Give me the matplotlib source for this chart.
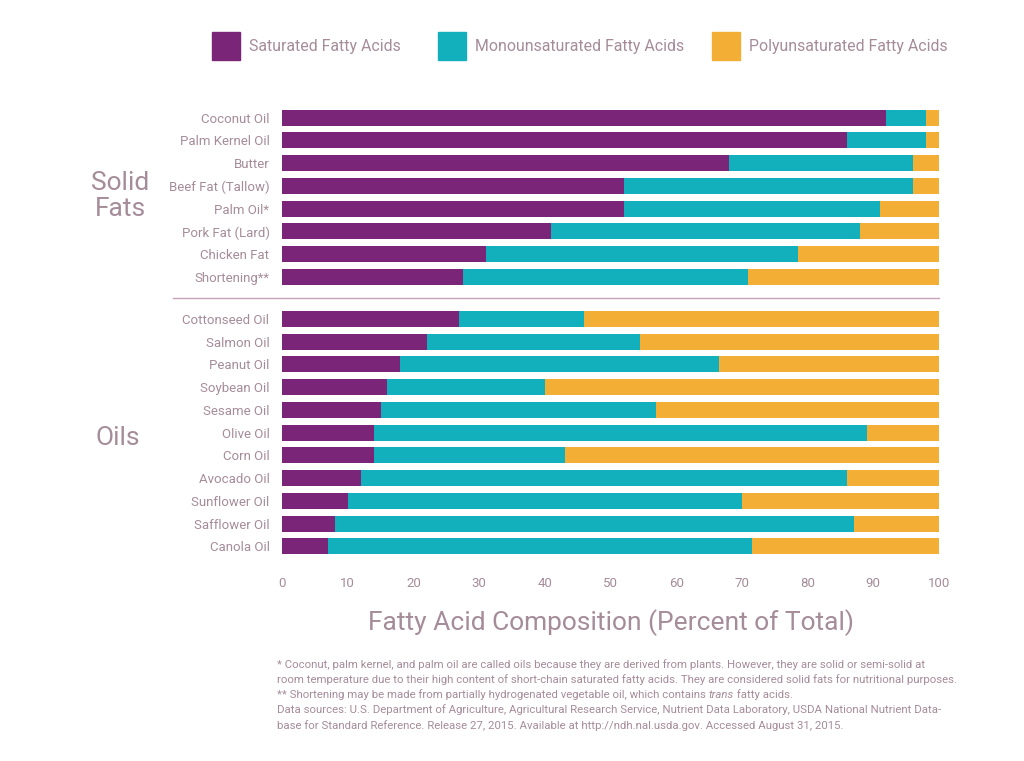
import matplotlib.pyplot as plt
from matplotlib.patches import Rectangle

plt.rcParams['font.family'] = ['Roboto', 'DejaVu Sans']

solid_fats = ['Coconut Oil', 'Palm Kernel Oil', 'Butter', 'Beef Fat (Tallow)', 'Palm Oil*',
              'Pork Fat (Lard)', 'Chicken Fat', 'Shortening**']
solid_sat = [92, 86, 68, 52, 52, 41, 31, 27.5]
solid_mono = [6, 12, 28, 44, 39, 47, 47.5, 43.5]
solid_poly = [2, 2, 4, 4, 9, 12, 21.5, 29]

oils = ['Cottonseed Oil', 'Salmon Oil', 'Peanut Oil', 'Soybean Oil', 'Sesame Oil', 'Olive Oil',
        'Corn Oil', 'Avocado Oil', 'Sunflower Oil', 'Safflower Oil', 'Canola Oil']
oil_sat = [27, 22, 18, 16, 15, 14, 14, 12, 10, 8, 7]
oil_mono = [19, 32.5, 48.5, 24, 42, 75, 29, 74, 60, 79, 64.5]
oil_poly = [54, 45.5, 33.5, 60, 43, 11, 57, 14, 30, 13, 28.5]

series_names = ['Saturated Fatty Acids', 'Monounsaturated Fatty Acids', 'Polyunsaturated Fatty Acids']
colors = ['#7b2579', '#12b0bc', '#f3ae35']
txt = '#a58c99'
gap = 0.85

labels = solid_fats + oils
sat = solid_sat + oil_sat
mono = solid_mono + oil_mono
poly = solid_poly + oil_poly
ypos = list(range(len(solid_fats))) + [len(solid_fats) + gap + i for i in range(len(oils))]

fig = plt.figure(figsize=(10.24, 7.61), dpi=100)
ax = fig.add_axes([282 / 1024, 1 - 560 / 761, 657 / 1024, (560 - 104) / 761])

left = [0] * len(labels)
for vals, c in zip([sat, mono, poly], colors):
    ax.barh(ypos, vals, left=left, height=0.7, color=c, linewidth=0)
    left = [l + v for l, v in zip(left, vals)]

ax.set_xlim(0, 100)
ax.set_ylim(ypos[-1] + 0.6, -0.6)
ax.set_yticks(ypos)
ax.set_yticklabels(labels, fontsize=9.5, color=txt)
ax.set_xticks(range(0, 101, 10))
ax.tick_params(axis='both', length=0, colors=txt)
ax.tick_params(axis='x', labelsize=9.5, pad=12)
ax.tick_params(axis='y', pad=9)
for s in ax.spines.values():
    s.set_visible(False)

# divider between groups
ydiv = len(solid_fats) - 1 + (1 + gap) / 2
ax.plot([-0.166, 1], [ydiv, ydiv], transform=ax.get_yaxis_transform(), color='#c9a3ba',
        lw=1, clip_on=False)

# group labels
fig.text(120 / 1024, 1 - 196 / 761, 'Solid\nFats', ha='center', va='center', fontsize=19,
         color=txt, linespacing=1.15)
fig.text(118 / 1024, 1 - 438 / 761, 'Oils', ha='center', va='center', fontsize=19, color=txt)

ax.set_xlabel('Fatty Acid Composition (Percent of Total)', fontsize=19, color=txt, labelpad=14)

# legend
leg_x = [212, 438, 712]
for x, name, c in zip(leg_x, series_names, colors):
    fig.patches.append(Rectangle((x / 1024, 1 - 60 / 761), 28 / 1024, 28 / 761,
                                 transform=fig.transFigure, color=c))
    fig.text((x + 37) / 1024, 1 - 46 / 761, name, fontsize=11.4, color=txt, va='center')

# footnotes
fx = 277 / 1024
fs = 8.2
fig.text(fx, 1 - 665 / 761, '* Coconut, palm kernel, and palm oil are called oils because they are derived from plants. '
         'However, they are solid or semi-solid at', fontsize=fs, color=txt, va='center')
fig.text(fx, 1 - 680 / 761, 'room temperature due to their high content of short-chain saturated fatty acids. '
         'They are considered solid fats for nutritional purposes.', fontsize=fs, color=txt, va='center')
t = fig.text(fx, 1 - 695 / 761, '** Shortening may be made from partially hydrogenated vegetable oil, which contains ',
             fontsize=fs, color=txt, va='center')
a = ax.annotate('trans', xy=(1, 0), xycoords=t, va='bottom', fontsize=fs, color=txt, style='italic')
ax.annotate(' fatty acids.', xy=(1, 0), xycoords=a, va='bottom', fontsize=fs, color=txt)
fig.text(fx, 1 - 710 / 761, 'Data sources: U.S. Department of Agriculture, Agricultural Research Service, '
         'Nutrient Data Laboratory, USDA National Nutrient Data-', fontsize=fs, color=txt, va='center')
fig.text(fx, 1 - 726 / 761, 'base for Standard Reference. Release 27, 2015. Available at '
         'http://ndh.nal.usda.gov. Accessed August 31, 2015.', fontsize=fs, color=txt, va='center')

fig.savefig('out.png', dpi=100, facecolor='white')
